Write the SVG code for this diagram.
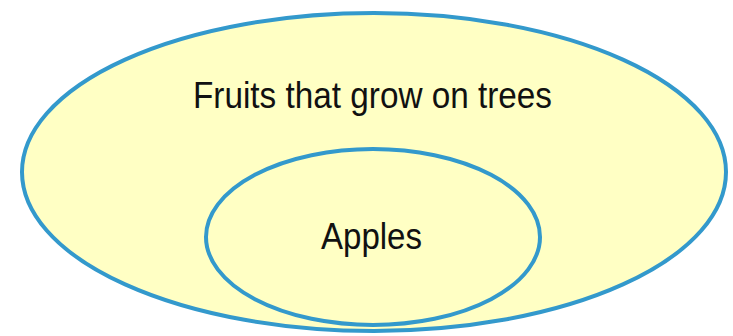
<svg xmlns="http://www.w3.org/2000/svg" width="733" height="336" viewBox="0 0 733 336">
  <style>
    .set { fill: #ffffc4; stroke: #3399cc; stroke-width: 4; }
    .label { font-family: "Liberation Sans", Arial, sans-serif; font-size: 36px; fill: #111; }
  </style>
  <rect width="733" height="336" fill="#ffffff"/>
  <g id="fruits-on-trees">
    <ellipse class="set" cx="374" cy="172" rx="352" ry="159"/>
    <text class="label" x="193" y="108" textLength="359" lengthAdjust="spacingAndGlyphs">Fruits that grow on trees</text>
  </g>
  <g id="apples">
    <ellipse class="set" cx="373" cy="237" rx="167" ry="88"/>
    <text class="label" x="321" y="249" textLength="101" lengthAdjust="spacingAndGlyphs">Apples</text>
  </g>
  <g id="connectors"/>
</svg>
